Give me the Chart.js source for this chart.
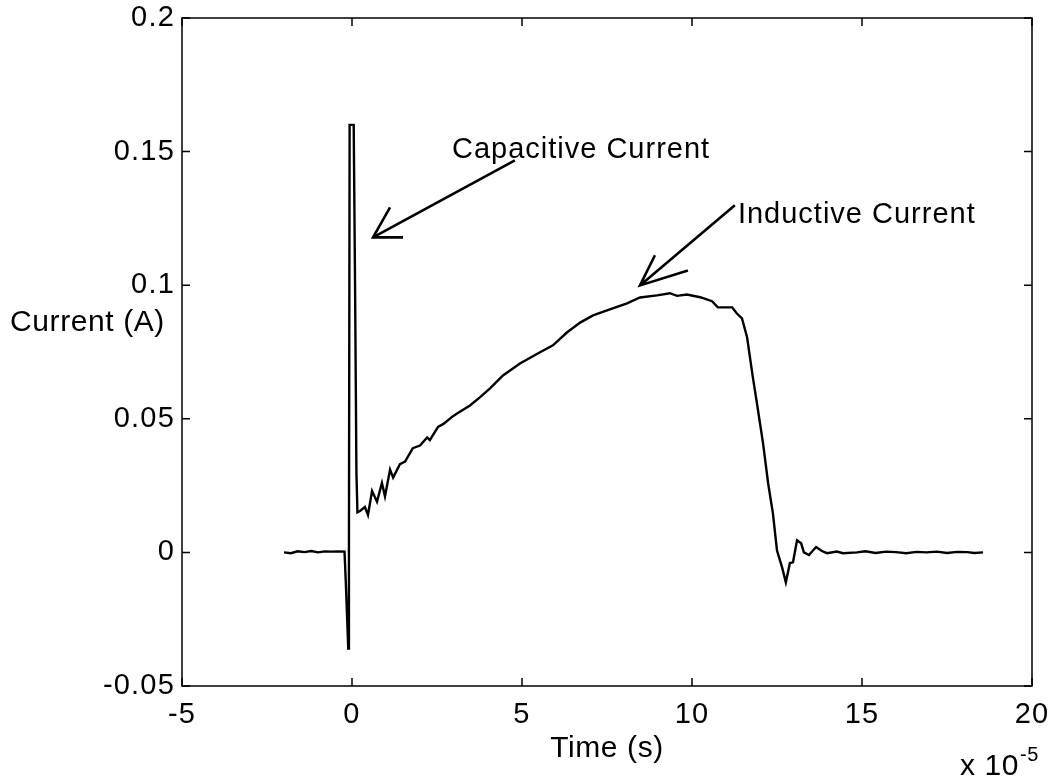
<!DOCTYPE html>
<html>
<head>
<meta charset="utf-8">
<script src="https://cdn.jsdelivr.net/npm/chart.js@4/dist/chart.umd.min.js"></script>
<style>
  body { margin: 0; background: #fff; }
  #wrap { width: 1060px; height: 781px; }
</style>
</head>
<body>
<div id="wrap"><canvas id="plot" width="1060" height="781"></canvas></div>
<script>
// time axis is in units of 1e-5 s (the "x 10^-5" multiplier)
const timeE5 = [
  -2.0, -1.8, -1.6, -1.4, -1.2, -1.0, -0.8, -0.6, -0.4, -0.22,
  -0.18, -0.11, -0.09, -0.07, 0.05, 0.09, 0.13, 0.16,
  0.235, 0.38, 0.47, 0.59, 0.735, 0.88, 0.97, 1.12, 1.21, 1.41, 1.56, 1.79,
  2.0, 2.21, 2.29, 2.53, 2.68, 2.97, 3.09, 3.47, 3.76, 4.06, 4.44, 4.94,
  5.53, 5.91, 6.32, 6.71, 7.09, 7.5, 8.09, 8.47, 8.97, 9.35, 9.56, 9.85,
  10.24, 10.59, 10.76, 11.18, 11.32, 11.47, 11.62, 11.79, 11.91, 12.09, 12.24, 12.38,
  12.5, 12.65, 12.76, 12.88, 12.97, 13.09, 13.21, 13.29, 13.44, 13.65, 13.82, 13.97,
  14.26, 14.44, 14.85, 15.1, 15.4, 15.7, 16.0, 16.3, 16.6, 16.9, 17.2, 17.5,
  17.8, 18.1, 18.3, 18.56
];
const current = [
  0.0, -0.0003, 0.0004, 0.0001, 0.0005, 0.0, 0.0004, 0.0003, 0.0004, 0.0003,
  -0.012, -0.036, 0.0, 0.16, 0.16, 0.10, 0.03, 0.015,
  0.0155, 0.017, 0.014, 0.023, 0.019, 0.026, 0.021, 0.031, 0.028, 0.033, 0.034, 0.039,
  0.040, 0.043, 0.042, 0.047, 0.048, 0.051, 0.052, 0.055, 0.058, 0.0614, 0.0662, 0.0707,
  0.0749, 0.0775, 0.0823, 0.086, 0.0887, 0.0906, 0.0932, 0.0954, 0.0962, 0.097, 0.096, 0.0965,
  0.0955, 0.094, 0.0917, 0.0917, 0.0894, 0.0876, 0.0805, 0.0655, 0.0558, 0.0408, 0.0258, 0.0146,
  0.0007, -0.0056, -0.0112, -0.004, -0.0037, 0.0045, 0.0034, 0.0, -0.001, 0.002, 0.0005, -0.0003,
  0.0003, -0.0003, 0.0, 0.0004, -0.0002, 0.0003, 0.0001, -0.0003, 0.0002, 0.0, 0.0003, -0.0002,
  0.0002, 0.0001, -0.0002, 0.0
];

const xTicks = [-5, 0, 5, 10, 15, 20];
const xTickLabels = ['-5', '0', '5', '10', '15', '20'];
const yTicks = [-0.05, 0, 0.05, 0.1, 0.15, 0.2];
const yTickLabels = ['-0.05', '0', '0.05', '0.1', '0.15', '0.2'];

// annotation arrows: [tail, head, barb1, barb2] in data coordinates
const capArrow = [[4.79, 0.1467], [0.618, 0.1179], [1.118, 0.1291], [1.5, 0.1179]];
const indArrow = [[11.26, 0.1299], [8.47, 0.0999], [8.91, 0.1112], [9.88, 0.1055]];

const FONT = "'Liberation Sans', Arial, sans-serif";

const matlabFrame = {
  id: 'matlabFrame',
  beforeDraw(chart) {
    // matlab's helvetica is a bit wider than arial
    chart.ctx.letterSpacing = '1.2px';
  },
  afterDraw(chart) {
    const { ctx, chartArea: { left, right, top, bottom }, scales: { x, y } } = chart;
    ctx.save();
    ctx.strokeStyle = '#000';
    ctx.lineWidth = 1.5;
    ctx.strokeRect(left, top, right - left, bottom - top);

    // inward ticks on all four sides
    ctx.beginPath();
    xTicks.forEach(v => {
      const px = x.getPixelForValue(v);
      ctx.moveTo(px, bottom); ctx.lineTo(px, bottom - 8);
      ctx.moveTo(px, top); ctx.lineTo(px, top + 8);
    });
    yTicks.forEach(v => {
      const py = y.getPixelForValue(v);
      ctx.moveTo(left, py); ctx.lineTo(left + 8, py);
      ctx.moveTo(right, py); ctx.lineTo(right - 8, py);
    });
    ctx.stroke();

    // arrows
    ctx.lineWidth = 2.6;
    [capArrow, indArrow].forEach(a => {
      const p = a.map(([vx, vy]) => [x.getPixelForValue(vx), y.getPixelForValue(vy)]);
      ctx.beginPath();
      ctx.moveTo(p[0][0], p[0][1]); ctx.lineTo(p[1][0], p[1][1]);
      ctx.moveTo(p[2][0], p[2][1]); ctx.lineTo(p[1][0], p[1][1]); ctx.lineTo(p[3][0], p[3][1]);
      ctx.stroke();
    });

    ctx.fillStyle = '#000';
    ctx.textBaseline = 'alphabetic';
    ctx.textAlign = 'left';
    ctx.letterSpacing = '1px';
    ctx.font = '29px ' + FONT;
    ctx.fillText('Capacitive Current', x.getPixelForValue(2.94), y.getPixelForValue(0.1475));
    ctx.fillText('Inductive Current', x.getPixelForValue(11.35), y.getPixelForValue(0.1231));

    // axis labels
    ctx.letterSpacing = '0.6px';
    ctx.font = '30px ' + FONT;
    ctx.fillText('Current (A)', 10, 331);
    ctx.textAlign = 'center';
    ctx.fillText('Time (s)', (left + right) / 2, 757);
    ctx.textAlign = 'left';
    ctx.fillText('x 10', 960, 775);
    ctx.font = '20px ' + FONT;
    ctx.fillText('-5', 1020, 761);
    ctx.restore();
    ctx.letterSpacing = '0px';
  }
};

new Chart(document.getElementById('plot'), {
  type: 'line',
  data: {
    datasets: [{
      data: timeE5.map((t, i) => ({ x: t, y: current[i] })),
      borderColor: '#000',
      borderWidth: 2.4,
      pointRadius: 0,
      tension: 0,
      fill: false
    }]
  },
  options: {
    responsive: false,
    animation: false,
    layout: { padding: { top: 18, right: 28, left: 0, bottom: 0 } },
    plugins: { legend: { display: false }, tooltip: { enabled: false } },
    scales: {
      x: {
        type: 'linear', min: -5, max: 20,
        afterBuildTicks: s => { s.ticks = xTicks.map(v => ({ value: v })); },
        afterFit: s => { s.height = 95; s.paddingLeft = 0; s.paddingRight = 0; },
        grid: { display: false, drawTicks: false }, border: { display: false },
        ticks: {
          padding: 12, color: '#000', maxRotation: 0,
          font: { family: FONT, size: 29 },
          callback: (v, i) => xTickLabels[i]
        }
      },
      y: {
        type: 'linear', min: -0.05, max: 0.2,
        afterBuildTicks: s => { s.ticks = yTicks.map(v => ({ value: v })); },
        afterFit: s => { s.width = 182; s.paddingTop = 0; s.paddingBottom = 0; },
        grid: { display: false, drawTicks: false }, border: { display: false },
        ticks: {
          padding: 7, color: '#000',
          font: { family: FONT, size: 29 },
          callback: (v, i) => yTickLabels[i]
        }
      }
    }
  },
  plugins: [matlabFrame]
});
</script>
</body>
</html>
